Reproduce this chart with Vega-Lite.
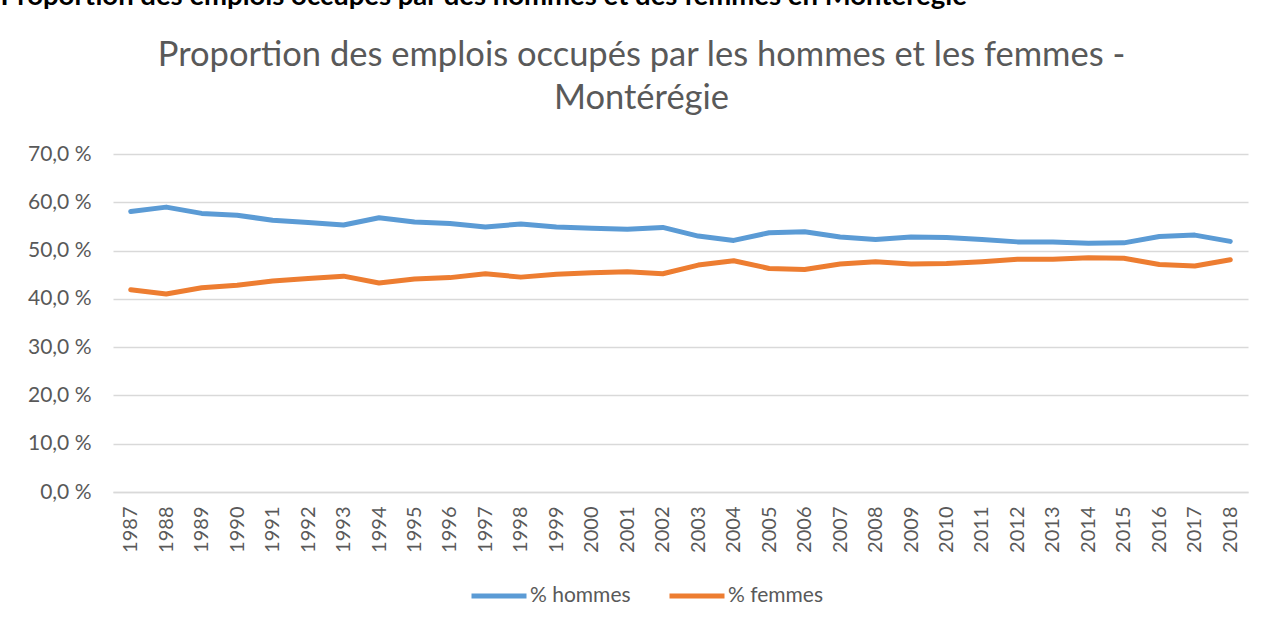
{
  "$schema": "https://vega.github.io/schema/vega-lite/v6.json",
  "width": 1135,
  "height": 338,
  "autosize": {"type": "none"},
  "padding": {"left": 113, "top": 154, "right": 17, "bottom": 132},
  "background": "white",
  "config": {
    "view": {"stroke": null},
    "font": "Lato"
  },
  "data": {
    "values": [
      {"year": "1987", "series": "% hommes", "value": 58.1},
      {"year": "1988", "series": "% hommes", "value": 59.0},
      {"year": "1989", "series": "% hommes", "value": 57.7},
      {"year": "1990", "series": "% hommes", "value": 57.3},
      {"year": "1991", "series": "% hommes", "value": 56.3},
      {"year": "1992", "series": "% hommes", "value": 55.8},
      {"year": "1993", "series": "% hommes", "value": 55.3},
      {"year": "1994", "series": "% hommes", "value": 56.8},
      {"year": "1995", "series": "% hommes", "value": 55.9},
      {"year": "1996", "series": "% hommes", "value": 55.6},
      {"year": "1997", "series": "% hommes", "value": 54.9},
      {"year": "1998", "series": "% hommes", "value": 55.5},
      {"year": "1999", "series": "% hommes", "value": 54.9},
      {"year": "2000", "series": "% hommes", "value": 54.6},
      {"year": "2001", "series": "% hommes", "value": 54.4},
      {"year": "2002", "series": "% hommes", "value": 54.8},
      {"year": "2003", "series": "% hommes", "value": 53.0},
      {"year": "2004", "series": "% hommes", "value": 52.1},
      {"year": "2005", "series": "% hommes", "value": 53.7},
      {"year": "2006", "series": "% hommes", "value": 53.9},
      {"year": "2007", "series": "% hommes", "value": 52.8},
      {"year": "2008", "series": "% hommes", "value": 52.3},
      {"year": "2009", "series": "% hommes", "value": 52.8},
      {"year": "2010", "series": "% hommes", "value": 52.7},
      {"year": "2011", "series": "% hommes", "value": 52.3},
      {"year": "2012", "series": "% hommes", "value": 51.8},
      {"year": "2013", "series": "% hommes", "value": 51.8},
      {"year": "2014", "series": "% hommes", "value": 51.5},
      {"year": "2015", "series": "% hommes", "value": 51.6},
      {"year": "2016", "series": "% hommes", "value": 52.9},
      {"year": "2017", "series": "% hommes", "value": 53.2},
      {"year": "2018", "series": "% hommes", "value": 51.9},
      {"year": "1987", "series": "% femmes", "value": 41.9},
      {"year": "1988", "series": "% femmes", "value": 41.0},
      {"year": "1989", "series": "% femmes", "value": 42.3},
      {"year": "1990", "series": "% femmes", "value": 42.8},
      {"year": "1991", "series": "% femmes", "value": 43.7},
      {"year": "1992", "series": "% femmes", "value": 44.2},
      {"year": "1993", "series": "% femmes", "value": 44.7},
      {"year": "1994", "series": "% femmes", "value": 43.3},
      {"year": "1995", "series": "% femmes", "value": 44.1},
      {"year": "1996", "series": "% femmes", "value": 44.4},
      {"year": "1997", "series": "% femmes", "value": 45.2},
      {"year": "1998", "series": "% femmes", "value": 44.5},
      {"year": "1999", "series": "% femmes", "value": 45.1},
      {"year": "2000", "series": "% femmes", "value": 45.4},
      {"year": "2001", "series": "% femmes", "value": 45.6},
      {"year": "2002", "series": "% femmes", "value": 45.2},
      {"year": "2003", "series": "% femmes", "value": 47.0},
      {"year": "2004", "series": "% femmes", "value": 47.9},
      {"year": "2005", "series": "% femmes", "value": 46.3},
      {"year": "2006", "series": "% femmes", "value": 46.1},
      {"year": "2007", "series": "% femmes", "value": 47.2},
      {"year": "2008", "series": "% femmes", "value": 47.7},
      {"year": "2009", "series": "% femmes", "value": 47.2},
      {"year": "2010", "series": "% femmes", "value": 47.3},
      {"year": "2011", "series": "% femmes", "value": 47.7},
      {"year": "2012", "series": "% femmes", "value": 48.2},
      {"year": "2013", "series": "% femmes", "value": 48.2},
      {"year": "2014", "series": "% femmes", "value": 48.5},
      {"year": "2015", "series": "% femmes", "value": 48.4},
      {"year": "2016", "series": "% femmes", "value": 47.1},
      {"year": "2017", "series": "% femmes", "value": 46.8},
      {"year": "2018", "series": "% femmes", "value": 48.1}
    ]
  },
  "layer": [
    {
      "mark": {"type": "line", "strokeWidth": 5, "strokeCap": "round", "strokeJoin": "round"},
      "encoding": {
        "x": {
          "field": "year",
          "type": "ordinal",
          "scale": {"type": "point", "padding": 0.5},
          "axis": {
            "orient": "bottom",
            "title": null,
            "labelAngle": -90,
            "labelAlign": "right",
            "labelBaseline": "middle",
            "labelPadding": 14,
            "labelFontSize": 20,
            "labelColor": "#595959",
            "labelFont": "Lato",
            "ticks": false,
            "domain": true,
            "domainColor": "#d9d9d9",
            "domainWidth": 1.5,
            "grid": false
          }
        },
        "y": {
          "field": "value",
          "type": "quantitative",
          "scale": {"domain": [0, 70], "nice": false},
          "axis": {
            "values": [0, 10, 20, 30, 40, 50, 60, 70],
            "labelExpr": "replace(format(datum.value, '.1f'), '.', ',') + ' %'",
            "labelPadding": 22,
            "labelFontSize": 21,
            "labelColor": "#595959",
            "labelFont": "Lato",
            "ticks": false,
            "domain": false,
            "grid": true,
            "gridColor": "#d9d9d9",
            "gridWidth": 1.5,
            "title": "Proportion des emplois occupés par des hommes et des femmes en Montérégie",
            "titleAngle": 0,
            "titleX": -113,
            "titleY": -150,
            "titleAlign": "left",
            "titleBaseline": "alphabetic",
            "titleFont": "Lato",
            "titleFontSize": 27.5,
            "titleFontWeight": "bold",
            "titleColor": "#000000"
          }
        },
        "color": {
          "field": "series",
          "type": "nominal",
          "sort": ["% hommes", "% femmes"],
          "scale": {"domain": ["% hommes", "% femmes"], "range": ["#5B9BD5", "#ED7D31"]},
          "legend": {
            "title": null,
            "orient": "none",
            "direction": "horizontal",
            "legendX": 356,
            "legendY": 412,
            "symbolType": "stroke",
            "symbolSize": 3025,
            "symbolStrokeWidth": 5,
            "labelFontSize": 21,
            "labelColor": "#595959",
            "labelFont": "Lato",
            "labelOffset": 1,
            "columnPadding": 28
          }
        }
      }
    },
    {
      "mark": {"type": "point", "opacity": 0},
      "encoding": {
        "x": {
          "field": "year",
          "type": "ordinal",
          "axis": {
            "orient": "top",
            "labels": false,
            "ticks": false,
            "domain": false,
            "grid": false,
            "title": ["Proportion des emplois occupés par les hommes et les femmes -", "Montérégie"],
            "titleX": 528,
            "titleY": -89,
            "titleAlign": "center",
            "titleAnchor": null,
            "titleBaseline": "alphabetic",
            "titleFont": "Lato",
            "titleFontSize": 34.5,
            "titleFontWeight": "normal",
            "titleLineHeight": 43,
            "titleColor": "#595959"
          }
        }
      }
    }
  ],
  "resolve": {"axis": {"x": "independent"}}
}
